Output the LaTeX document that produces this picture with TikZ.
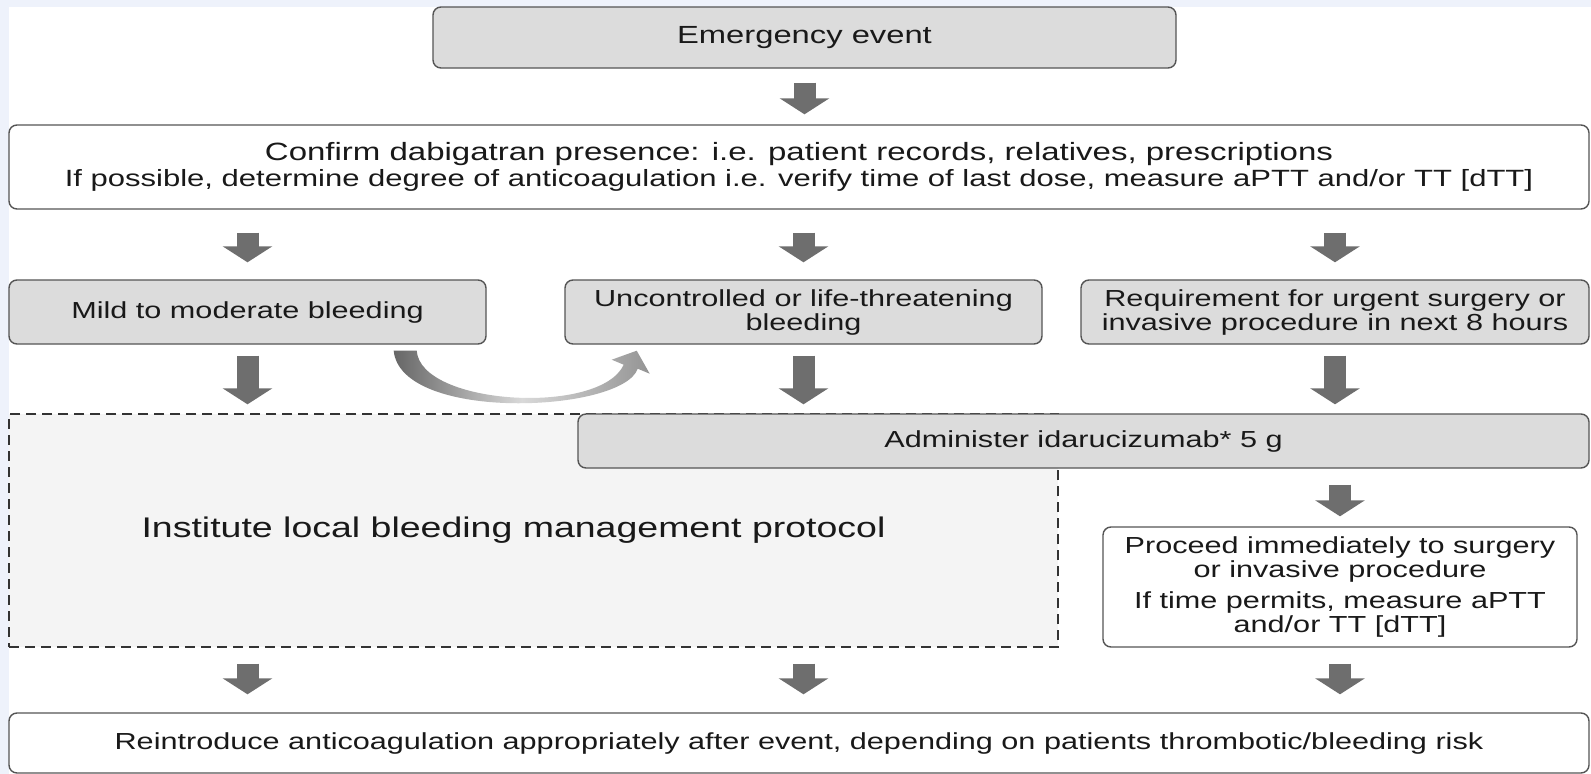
\documentclass[tikz,border=0pt]{standalone}
\usepackage{fontspec}
\setmainfont{Liberation Sans}[FakeStretch=1.32]
\usetikzlibrary{arrows.meta,calc}
\definecolor{bgblue}{RGB}{238,242,251}
\definecolor{boxgrey}{RGB}{220,220,220}
\definecolor{palegrey}{RGB}{244,244,244}
\definecolor{edgegrey}{RGB}{85,85,85}
\definecolor{arrowgrey}{RGB}{110,110,110}
\definecolor{inkgrey}{RGB}{25,25,25}

\tikzset{
  box/.style={draw=edgegrey, line width=1.4pt, rounded corners=8pt, align=center,
    inner sep=0pt, text=inkgrey, font=\fontsize{23.2}{24}\selectfont},
  greybox/.style={box, fill=boxgrey},
  whitebox/.style={box, fill=white},
  flow/.style={line width=22pt, draw=arrowgrey, -{Triangle[length=16pt,width=49pt]}},
}

\begin{document}
\begin{tikzpicture}[x=1pt,y=-1pt]
  \clip (0,0) rectangle (1591,774);
  \fill[bgblue] (0,0) rectangle (1591,774);
  \fill[white] (9,7) rectangle (1591,774);

  % top
  \node[greybox, minimum width=743pt, minimum height=61pt, font=\fontsize{24.8}{27}\selectfont]
    (emerg) at (804.5,37.5) {Emergency event};
  \node[whitebox, minimum width=1580pt, minimum height=84pt, font=\fontsize{23.5}{25.5}\selectfont]
    (confirm) at (799,167)
    {{\fontsize{25}{25.5}\selectfont Confirm dabigatran presence: i.e. patient records, relatives, prescriptions}\\
     If possible, determine degree of anticoagulation i.e. verify time of last dose, measure aPTT and/or TT [dTT]};

  % three cases
  \node[greybox, minimum width=477pt, minimum height=64pt] (mild) at (247.5,312) {Mild to moderate bleeding};
  \node[greybox, minimum width=477pt, minimum height=64pt] (unctrl) at (803.5,312)
    {Uncontrolled or life-threatening\\bleeding};
  \node[greybox, minimum width=508pt, minimum height=64pt] (urgent) at (1335,312)
    {Requirement for urgent surgery or\\invasive procedure in next 8 hours};

  % management
  \node[draw=black!80, line width=1.4pt, dash pattern=on 10pt off 6pt, fill=palegrey,
    minimum width=1049pt, minimum height=233pt, inner sep=0pt] (local) at (533.5,530.5) {};
  \node[text=inkgrey, font=\fontsize{28.4}{30}\selectfont] (localtxt) at ([xshift=-20pt]local.center)
    {Institute local bleeding management protocol};
  \node[greybox, minimum width=1011pt, minimum height=54pt] (admin) at (1083.5,441)
    {Administer idarucizumab* 5 g};
  \node[whitebox, minimum width=474pt, minimum height=120pt] (proceed) at (1340,587)
    {Proceed immediately to surgery\\or invasive procedure\\[7pt]If time permits, measure aPTT\\and/or TT [dTT]};

  % bottom
  \node[whitebox, minimum width=1580pt, minimum height=60pt] (reintro) at (799,743)
    {Reintroduce anticoagulation appropriately after event, depending on patients thrombotic/bleeding risk};

  % arrows
  \draw[flow, shorten <=14pt, shorten >=10pt] (emerg.south) -- (emerg.south |- confirm.north);
  \foreach \n in {mild,unctrl,urgent}
    \draw[flow, shorten <=23pt, shorten >=17pt] (confirm.south -| \n.north) -- (\n.north);
  \draw[flow, shorten <=11pt, shorten >=9pt] (mild.south) -- (mild.south |- local.north);
  \draw[flow, shorten <=11pt, shorten >=9pt] (unctrl.south) -- (unctrl.south |- admin.north);
  \draw[flow, shorten <=11pt, shorten >=9pt] (urgent.south) -- (urgent.south |- admin.north);
  \draw[flow, shorten <=16pt, shorten >=10pt] (admin.south -| proceed.north) -- (proceed.north);
  \draw[flow, shorten <=16pt, shorten >=18pt] (local.south -| mild.south) -- (reintro.north -| mild.south);
  \draw[flow, shorten <=16pt, shorten >=18pt] (local.south -| unctrl.south) -- (reintro.north -| unctrl.south);
  \draw[flow, shorten <=16pt, shorten >=18pt] (proceed.south) -- (proceed.south |- reintro.north);

  % mild -> uncontrolled
  \begin{scope}[shift={(mild.south east)}]
    \shade[left color=black!60, right color=black!42, middle color=black!15]
      (-93,6) -- (-70,6) .. controls (-66,61) and (114,71) .. (137,20)
      -- (125,15) -- (150,6) -- (163,29) -- (151,24)
      .. controls (136,68) and (-86,78) .. (-93,6) -- cycle;
  \end{scope}
\end{tikzpicture}
\end{document}
